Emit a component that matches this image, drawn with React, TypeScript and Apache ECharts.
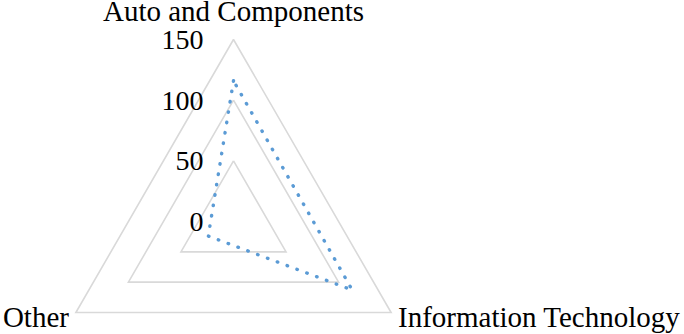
import React, { useEffect, useRef } from "react";
import * as echarts from "echarts";

// Indicators listed counter-clockwise from the top (ECharts radar order)
const indicatorNames = ["Auto and Components", "Other", "Information Technology"];
const seriesValues = [116, 24, 113];
const axisMin = 0;
const axisMax = 150;
const splitCount = 3;

export default function App() {
  const ref = useRef<HTMLDivElement>(null);
  useEffect(() => {
    if (!ref.current) return;
    const chart = echarts.init(ref.current, null, { renderer: "svg" });
    const font = "'Liberation Serif', 'Times New Roman', serif";
    chart.setOption({
      animation: false,
      backgroundColor: "#ffffff",
      radar: {
        center: [233.5, 221.5],
        radius: 182,
        startAngle: 90,
        shape: "polygon",
        splitNumber: splitCount,
        nameGap: 8,
        axisName: {
          color: "#000000",
          fontFamily: font,
          fontSize: 29,
          padding: [0, 0, -4, 0],
        },
        axisLine: { show: false },
        axisTick: { show: false },
        axisLabel: { show: false },
        splitArea: { show: false },
        splitLine: { lineStyle: { color: "#d9d9d9", width: 1.6 } },
        indicator: indicatorNames.map((name, i) => ({
          name,
          min: axisMin,
          max: axisMax,
          axisLabel:
            i === 0
              ? { show: true, color: "#000000", fontFamily: font, fontSize: 28, margin: 30 }
              : { show: false },
        })),
      },
      series: [
        {
          type: "radar",
          symbol: "none",
          lineStyle: { color: "#5b9bd5", width: 3.4, type: [0.5, 10], cap: "round" },
          data: [{ value: seriesValues, name: "Series" }],
        },
      ],
    });
    return () => chart.dispose();
  }, []);
  return (
    <div
      ref={ref}
      style={{ position: "fixed", left: 0, top: 0, width: 684, height: 334 }}
    />
  );
}
